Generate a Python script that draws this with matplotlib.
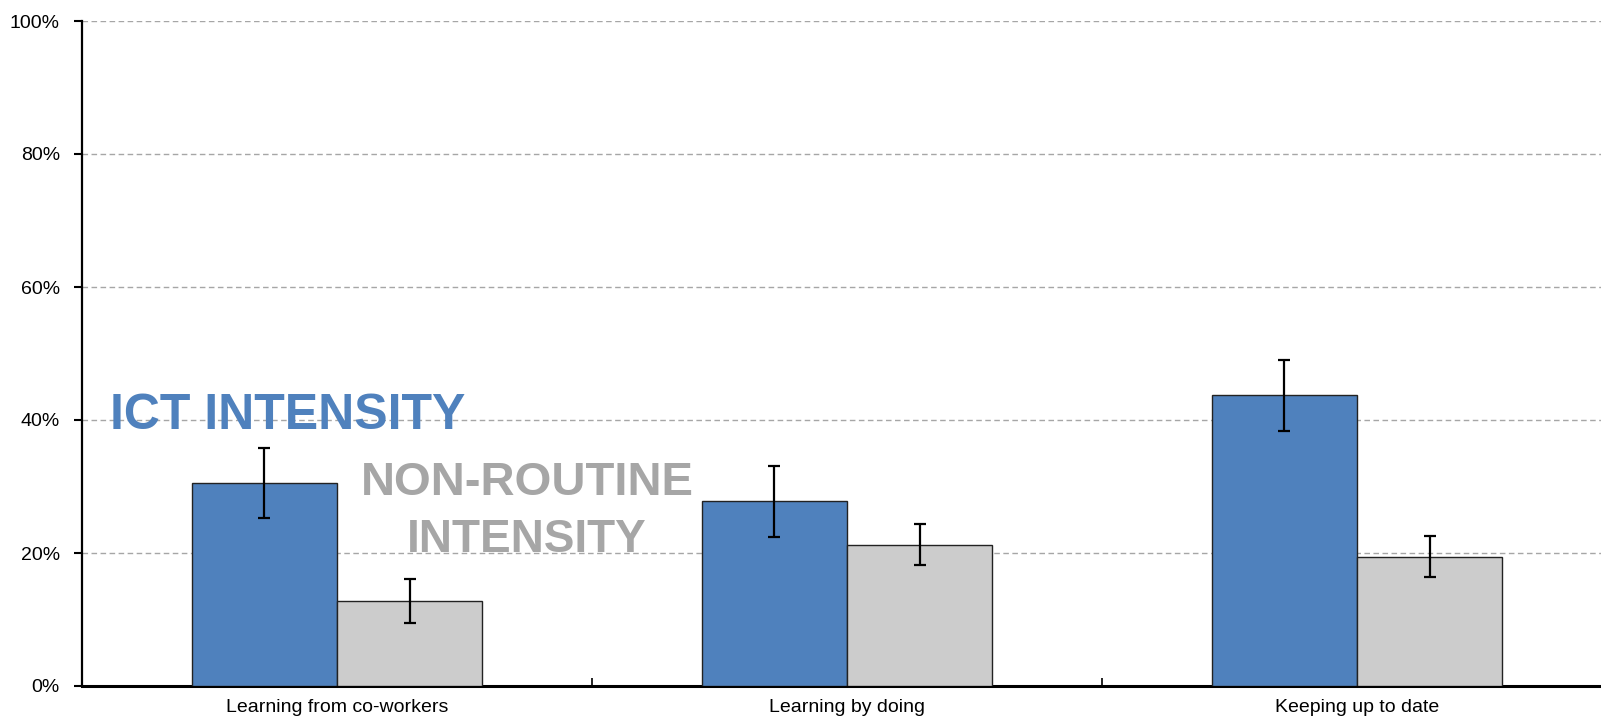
import matplotlib
matplotlib.use("Agg")
import matplotlib.pyplot as plt
import numpy as np
from matplotlib.ticker import FuncFormatter, FixedLocator

categories = ["Learning from co-workers", "Learning by doing", "Keeping up to date"]
ict_values = [30.5, 27.8, 43.7]
ict_errors = [5.3, 5.35, 5.3]
nr_values = [12.8, 21.25, 19.45]
nr_errors = [3.35, 3.1, 3.1]
y_ticks = [0, 20, 40, 60, 80, 100]

BLUE = "#4F81BD"
GREY = "#CCCCCC"
LABEL_GREY = "#A6A6A6"
TICK_FONT = ["Liberation Sans Narrow", "Liberation Sans", "DejaVu Sans"]
ANN_FONT = ["Liberation Sans", "DejaVu Sans"]

W, H = 1601, 722
fig = plt.figure(figsize=(W / 100, H / 100), dpi=100)
ax = fig.add_axes([82 / W, 36 / H, 1530 / W, 665 / H])

x = np.arange(len(categories))
w = 0.285
ax.bar(x - w / 2, ict_values, w, color=BLUE, edgecolor="#222222", linewidth=1.0, zorder=3)
ax.bar(x + w / 2, nr_values, w, color=GREY, edgecolor="#222222", linewidth=1.0, zorder=3)
ax.errorbar(x - w / 2, ict_values, yerr=ict_errors, fmt="none", ecolor="black",
            elinewidth=1.6, capsize=4.5, capthick=1.6, zorder=4)
ax.errorbar(x + w / 2, nr_values, yerr=nr_errors, fmt="none", ecolor="black",
            elinewidth=1.6, capsize=4.5, capthick=1.6, zorder=4)

ax.set_xlim(-0.5, len(categories) - 0.5)
ax.set_ylim(0, 100)
ax.yaxis.set_major_locator(FixedLocator(y_ticks))
ax.yaxis.set_major_formatter(FuncFormatter(lambda v, p: f"{v:.0f}%"))
ax.yaxis.grid(True, color="#A6A6A6", linewidth=1.0, linestyle=(0, (4, 2.5)), zorder=0)
ax.set_axisbelow(True)

ax.set_xticks(x)
ax.set_xticklabels(categories)
ax.set_xticks(np.arange(len(categories) + 1) - 0.5, minor=True)
ax.tick_params(axis="x", which="major", length=0, pad=9.5)
ax.tick_params(axis="x", which="minor", direction="in", length=6, width=1.2, color="black")
ax.tick_params(axis="y", which="major", direction="out", length=6, width=1.5, pad=10)

for lab in ax.get_xticklabels() + ax.get_yticklabels():
    lab.set_family(TICK_FONT)
    lab.set_fontsize(14)
    lab.set_color("black")

for s in ["top", "right"]:
    ax.spines[s].set_visible(False)
ax.spines["left"].set_linewidth(1.6)
ax.spines["bottom"].set_linewidth(2.2)

ax.text(-0.445, 38.6, "ICT INTENSITY", color=BLUE, fontsize=36, fontweight="bold",
        family=ANN_FONT, ha="left", va="baseline", zorder=5)
ax.text(0.3725, 28.7, "NON-ROUTINE", color=LABEL_GREY, fontsize=34, fontweight="bold",
        family=ANN_FONT, ha="center", va="baseline", zorder=5)
ax.text(0.3725, 20.15, "INTENSITY", color=LABEL_GREY, fontsize=33, fontweight="bold",
        family=ANN_FONT, ha="center", va="baseline", zorder=5)

fig.savefig("out.png", dpi=100)
